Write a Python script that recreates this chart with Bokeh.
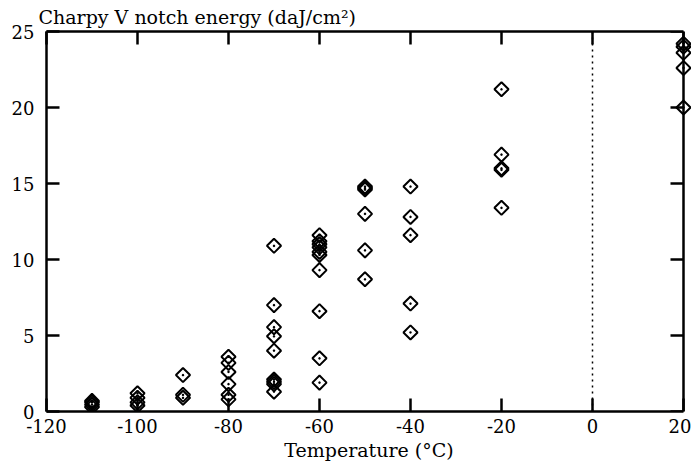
import numpy as np
from bokeh.plotting import figure
from bokeh.models import LinearAxis, FixedTicker, Span, Range1d, ColumnDataSource
from bokeh.embed import file_html
from bokeh.resources import INLINE

# ---- data ----
temp_m110 = [0.3, 0.45, 0.6, 0.7]
temp_m100 = [0.4, 0.6, 0.9, 1.2]
temp_m90 = [0.9, 1.1, 2.4]
temp_m80 = [3.6, 3.2, 2.6, 1.8, 1.1, 0.8]
temp_m70 = [10.9, 7.0, 5.55, 4.95, 4.0, 2.1, 1.95, 1.8, 1.3]
temp_m60 = [11.6, 11.2, 11.0, 10.8, 10.5, 10.3, 9.3, 6.6, 3.5, 1.9]
temp_m50 = [14.8, 14.7, 14.6, 13.0, 10.6, 8.7]
temp_m40 = [14.8, 12.8, 11.6, 7.1, 5.2]
temp_m20 = [21.2, 16.9, 16.0, 15.9, 13.4]
temp_p20 = [24.2, 24.0, 23.6, 22.6, 20.0]

groups = {
    -110: temp_m110, -100: temp_m100, -90: temp_m90, -80: temp_m80,
    -70: temp_m70, -60: temp_m60, -50: temp_m50, -40: temp_m40,
    -20: temp_m20, 20: temp_p20,
}

x_ticks = [-120, -100, -80, -60, -40, -20, 0, 20]
x_tick_labels = ["-120", "-100", "-80", "-60", "-40", "-20", "0", "20"]
y_ticks = [0, 5, 10, 15, 20, 25]
y_tick_labels = ["0", "5", "10", "15", "20", "25"]

xs, ys = [], []
for t, vals in groups.items():
    xs += [t] * len(vals)
    ys += vals
src = ColumnDataSource(dict(x=xs, y=ys))

FONT = "DejaVu Serif"
FS = "18px"
FS_T = "19px"

p = figure(
    output_backend="svg", toolbar_location=None,
    frame_width=645, frame_height=380,
    x_range=Range1d(-120, 21.76), y_range=Range1d(0, 25),
    min_border_left=46, min_border_right=0, min_border_top=0, min_border_bottom=0,
    x_axis_location=None, y_axis_location=None,
    title="Charpy V notch energy (daJ/cm²)",
)
p.outline_line_color = None
p.xgrid.visible = False
p.ygrid.visible = False
p.background_fill_color = "white"

p.title.text_font = FONT
p.title.text_font_size = FS_T
p.title.text_font_style = "normal"
p.title.text_color = "black"
p.title.align = "left"
p.title.offset = -8
p.title.standoff = 7

def style(ax, labels=True):
    ax.axis_line_width = 2.5
    ax.axis_line_color = "black"
    ax.major_tick_line_width = 2.5
    ax.major_tick_line_color = "black"
    ax.major_tick_in = 13
    ax.major_tick_out = 0
    ax.minor_tick_line_color = None
    ax.major_label_text_font = FONT
    if labels:
        ax.major_label_text_font_size = FS
        ax.major_label_text_color = "black"
    else:
        ax.major_label_text_font_size = "1px"
        ax.major_label_text_color = None
        ax.major_label_standoff = 0

bottom = LinearAxis(ticker=FixedTicker(ticks=x_ticks), bounds=(-120, 20),
                    axis_label="Temperature (°C)",
                    major_label_overrides={t: l for t, l in zip(x_ticks, x_tick_labels)})
style(bottom)
bottom.major_label_standoff = 7
bottom.axis_label_text_font = FONT
bottom.axis_label_text_font_size = FS_T
bottom.axis_label_text_font_style = "normal"
bottom.axis_label_text_color = "black"
bottom.axis_label_standoff = 3
p.add_layout(bottom, "below")

left = LinearAxis(ticker=FixedTicker(ticks=y_ticks),
                  major_label_overrides={t: l for t, l in zip(y_ticks, y_tick_labels)})
style(left)
left.major_label_standoff = 12
p.add_layout(left, "left")

top = LinearAxis(ticker=FixedTicker(ticks=x_ticks), bounds=(-120, 20))
style(top, labels=False)
p.add_layout(top, "above")

right = LinearAxis(ticker=FixedTicker(ticks=y_ticks), fixed_location=20)
style(right, labels=False)
p.add_layout(right, "right")

p.add_layout(Span(location=0, dimension="height", line_color="black",
                  line_width=1.5, line_dash="2 4"))

p.scatter("x", "y", source=src, marker="square_dot", angle=np.pi / 4,
          size=10, line_color="black", line_width=2, fill_color=None)

open("out.html", "w").write(file_html(p, INLINE))
